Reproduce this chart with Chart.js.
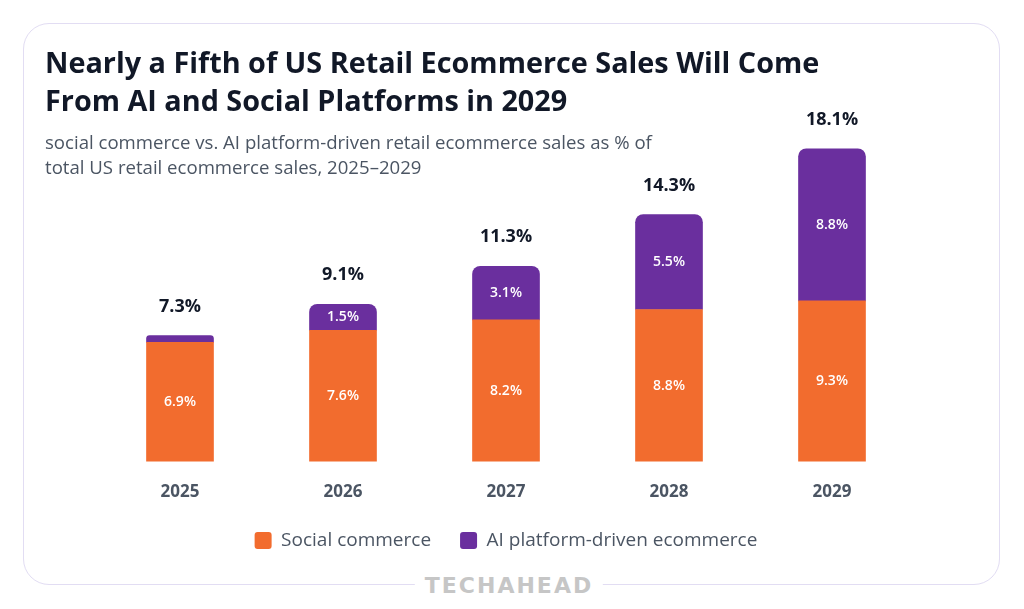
<!DOCTYPE html>
<html>
<head>
<meta charset="utf-8">
<script src="https://cdn.jsdelivr.net/npm/chart.js@4"></script>
<style>
  html, body { margin:0; padding:0; background:#fff; width:1024px; height:609px; overflow:hidden; }
  body { position:relative; font-family:'Open Sans', sans-serif; }
  #card { position:absolute; left:23px; top:23px; width:975px; height:560px; border:1.5px solid #e2ddf3; border-radius:26px; background:#fff; }
  #chart { position:absolute; left:0; top:0; }
  #title { position:absolute; left:45px; top:43px; font-size:28.8px; line-height:38px; font-weight:700; color:#111827; z-index:2; white-space:nowrap; }
  #subtitle { position:absolute; left:45px; top:129px; font-size:18.6px; line-height:25px; color:#4b5563; z-index:2; white-space:nowrap; }
  #logo { position:absolute; left:509px; top:585px; transform:translate(-50%,-50%); background:#fff; padding:0 10px; font-size:22px; font-weight:800; color:#c6c6c6; letter-spacing:2px; z-index:2; font-family:'DejaVu Sans', sans-serif; }
</style>
</head>
<body>
<div id="card"></div>
<canvas id="chart" width="1024" height="609"></canvas>
<div id="title">Nearly a Fifth of US Retail Ecommerce Sales Will Come<br>From AI and Social Platforms in 2029</div>
<div id="subtitle">social commerce vs. AI platform-driven retail ecommerce sales as % of<br>total US retail ecommerce sales, 2025–2029</div>
<div id="logo">TECHAHEAD</div>
<script>
const years = ['2025', '2026', '2027', '2028', '2029'];
const socialCommerce = [6.9, 7.6, 8.2, 8.8, 9.3];
const aiPlatform = [0.4, 1.5, 3.1, 5.5, 8.8];
const totals = [7.3, 9.1, 11.3, 14.3, 18.1];
const seriesNames = ['Social commerce', 'AI platform-driven ecommerce'];

const ORANGE = '#f26c2e';
const PURPLE = '#6a2f9e';
const FONT = "'Open Sans', sans-serif";

const labelPlugin = {
  id: 'barLabels',
  afterDatasetsDraw(chart) {
    const ctx = chart.ctx;
    ctx.save();
    ctx.textAlign = 'center';
    ctx.textBaseline = 'middle';
    chart.data.datasets.forEach((ds, di) => {
      const meta = chart.getDatasetMeta(di);
      meta.data.forEach((bar, i) => {
        const p = bar.getProps(['x', 'y', 'base'], true);
        if (Math.abs(p.base - p.y) < 18) return;
        ctx.fillStyle = '#ffffff';
        ctx.font = '600 14px ' + FONT;
        ctx.fillText(ds.data[i].toFixed(1) + '%', p.x, (p.y + p.base) / 2);
      });
    });
    const yScale = chart.scales.y;
    const meta0 = chart.getDatasetMeta(0);
    totals.forEach((t, i) => {
      const x = meta0.data[i].x;
      const y = yScale.getPixelForValue(t) - 29;
      ctx.fillStyle = '#111827';
      ctx.font = '700 18px ' + FONT;
      ctx.fillText(t.toFixed(1) + '%', x, y);
    });
    ctx.restore();
  }
};

new Chart(document.getElementById('chart'), {
  type: 'bar',
  data: {
    labels: years,
    datasets: [
      { label: seriesNames[0], data: socialCommerce, backgroundColor: ORANGE, barThickness: 67, borderRadius: 0 },
      { label: seriesNames[1], data: aiPlatform, backgroundColor: PURPLE, barThickness: 67,
        borderRadius: { topLeft: 8, topRight: 8, bottomLeft: 0, bottomRight: 0 }, borderSkipped: 'start' }
    ]
  },
  options: {
    responsive: false,
    animation: false,
    devicePixelRatio: 1,
    layout: { padding: { left: 98.5, right: 110.5, top: 116, bottom: 49 } },
    plugins: {
      tooltip: { enabled: false },
      legend: {
        position: 'bottom',
        labels: {
          boxWidth: 17, boxHeight: 17, useBorderRadius: true, borderRadius: 3,
          padding: 29, color: '#4b5563', font: { family: FONT, size: 19 }
        }
      }
    },
    scales: {
      x: {
        stacked: true,
        grid: { display: false, drawTicks: false },
        border: { display: false },
        ticks: { padding: 20, color: '#4b5563', font: { family: FONT, size: 17, weight: '700' } },
        afterFit(scale) { scale.height -= 20; }
      },
      y: { stacked: true, display: false, min: 0, max: 20 }
    }
  },
  plugins: [labelPlugin]
});
</script>
</body>
</html>
